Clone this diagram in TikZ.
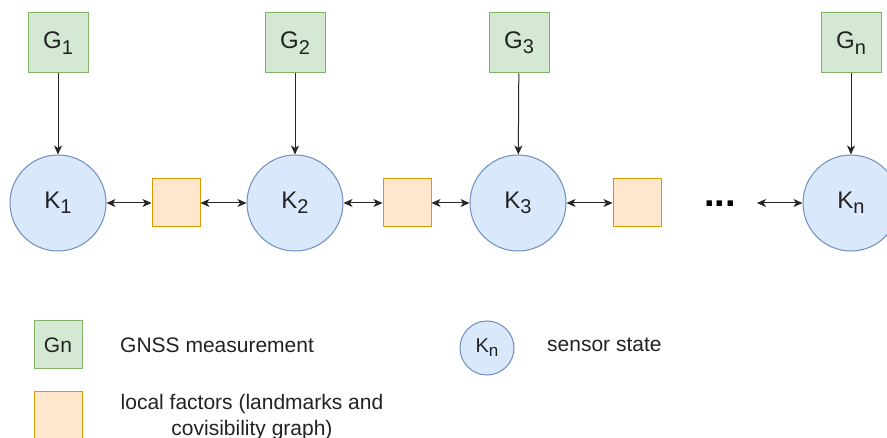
\documentclass[tikz,border=0pt]{standalone}
\usepackage{fontspec}
\setmainfont{Liberation Sans}
\usetikzlibrary{arrows.meta}
\definecolor{gfill}{HTML}{D5E8D4}
\definecolor{gline}{HTML}{82B366}
\definecolor{kfill}{HTML}{DAE8FC}
\definecolor{kline}{HTML}{6C8EBF}
\definecolor{ffill}{HTML}{FFE6CC}
\definecolor{fline}{HTML}{D79B00}
\definecolor{txt}{HTML}{222222}
% lowered, slightly smaller index
\newcommand\idx[1]{\raisebox{-0.22em}{\fontsize{20}{22}\selectfont #1}}
\newcommand\idxs[1]{\raisebox{-0.2em}{\fontsize{17}{19}\selectfont #1}}
\begin{document}
\begin{tikzpicture}[x=1pt,y=-1pt,
  gnss/.style={draw=gline, fill=gfill, line width=1pt, minimum size=60pt, inner sep=0pt,
    text=txt, font=\fontsize{24}{28}\selectfont},
  state/.style={circle, draw=kline, fill=kfill, line width=1pt, minimum size=96pt, inner sep=0pt,
    text=txt, font=\fontsize{24}{28}\selectfont},
  factor/.style={draw=fline, fill=ffill, line width=1pt, minimum size=48pt, inner sep=0pt},
  legtext/.style={text=txt, font=\fontsize{21}{26}\selectfont, inner sep=0pt},
  meas/.style={draw=black!85, line width=1pt, -{Stealth[length=9pt,width=8pt,inset=2.5pt]}},
  link/.style={draw=black!85, line width=1pt, {Stealth[length=9pt,width=8pt,inset=2.5pt]}-{Stealth[length=9pt,width=8pt,inset=2.5pt]}}
]
\useasboundingbox (0,0) rectangle (887,438);
\clip (0,0) rectangle (887,438);

% chain of sensor states and local factors
\node[gnss] (G1) at (58,43) {G\idx{1}};
\node[gnss] (G2) at (295,43) {G\idx{2}};
\node[gnss] (G3) at (519,43) {G\idx{3}};
\node[gnss] (Gn) at (851,43) {G\idx{n}};

\node[state] (K1) at (58,203) {K\idx{1}};
\node[state] (K2) at (295,203) {K\idx{2}};
\node[state] (K3) at (518,203) {K\idx{3}};
\node[state] (Kn) at (851,203) {K\idx{n}};

\node[factor] (F1) at (176,203) {};
\node[factor] (F2) at (407,203) {};
\node[factor] (F3) at (637,203) {};

\node[text=black, inner sep=0pt, anchor=base, font=\fontsize{38}{40}\selectfont\bfseries] (dots) at (720,206.5) {...};
\coordinate (dotsend) at (757,203);

\draw[meas] (G1) -- (K1);
\draw[meas] (G2) -- (K2);
\draw[meas] (G3) -- (K3);
\draw[meas] (Gn) -- (Kn);

\draw[link] (K1) -- (F1);
\draw[link] (F1) -- (K2);
\draw[link] (K2) -- (F2);
\draw[link] (F2) -- (K3);
\draw[link] (K3) -- (F3);
\draw[link] (dotsend) -- (Kn);

% legend
\node[gnss, minimum size=48pt, font=\fontsize{21}{24}\selectfont] (LG) at (58,345) {Gn};
\node[legtext, anchor=west] (LGt) at (120,345) {GNSS measurement};

\node[state, minimum size=54pt, font=\fontsize{20}{24}\selectfont] (LK) at (487,348) {K\idxs{n}};
\node[legtext, anchor=west] (LKt) at (547,345) {sensor state};

\node[factor] (LF) at (58,416) {};
\node[legtext, align=center] (LFt) at (252,417) {local factors (landmarks and\\covisibility graph)};
\end{tikzpicture}
\end{document}
